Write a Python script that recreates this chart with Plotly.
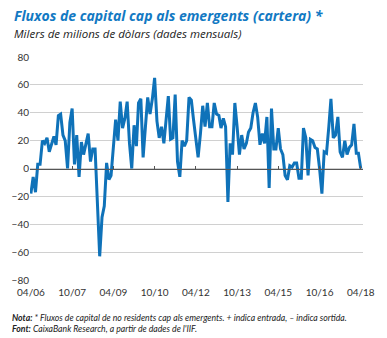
import plotly.graph_objects as go
import pandas as pd

start_month = "2006-04-01"
flows = [
    -18, -6, -17, 3, 3, 20, 18, 22, 12, 17,
    23, 17, 38, 39, 24, 20, 0, 33, 43, 3,
    24, -6, 19, 10, 17, 25, 5, 14, 14, -22,
    -63, -35, -27, 4, -8, -5, 15, 35, 20, 48,
    29, 36, 48, 18, 0, 31, 16, 47, 50, 8,
    30, 51, 39, 50, 65, 34, 22, 30, 18, 33,
    52, 21, 22, 53, 5, -6, 20, 16, 20, 51,
    49, 35, 20, 8, 25, 45, 30, 47, 30, 30,
    47, 39, 38, 29, 36, 30, -24, 18, 10, 47,
    30, 10, 24, 14, 18, 26, 29, 40, 47, 37,
    17, 25, 18, 37, -14, 43, 14, 14, 29, 14,
    10, -5, -8, 2, 1, 4, 4, -7, -7, 29,
    22, -5, 21, 20, 15, 14, 0, -18, 12, 11,
    30, 50, 22, 24, 37, 12, 8, 20, 10, 15,
    17, 32, 11, 11, 0,
]
months = pd.date_range(start_month, periods=len(flows), freq="MS")
y_ticks = [-80, -60, -40, -20, 0, 20, 40, 60, 80]

title = "Fluxos de capital cap als emergents (cartera) *"
subtitle = "Milers de milions de dòlars (dades mensuals)"
note = "<b>Nota:</b> * Fluxos de capital de no residents cap als emergents. + indica entrada, – indica sortida."
source = "<b>Font:</b> CaixaBank Research, a partir de dades de l'IIF."

W, H = 387, 338
ml, mr, mt, mb = 28, 15, 57, 58
pw, ph = W - ml - mr, H - mt - mb
xr = ["2006-03-20", "2018-05-01"]

def px(x):
    return (x - ml) / pw

def py(y):
    return (H - mb - y) / ph

fig = go.Figure()
fig.add_trace(go.Scatter(x=months, y=flows, mode="lines",
                         line=dict(color="#0f72b9", width=3),
                         hoverinfo="skip", showlegend=False))
fig.add_trace(go.Scatter(x=months, y=flows, mode="lines", xaxis="x2",
                         line=dict(width=0), opacity=0,
                         hoverinfo="skip", showlegend=False))

fig.update_layout(
    width=W, height=H,
    margin=dict(l=ml, r=mr, t=mt, b=mb),
    paper_bgcolor="white", plot_bgcolor="white",
    font=dict(family="Lato", color="#333333"),
    xaxis=dict(type="date", range=xr, tick0=start_month, dtick="M18",
               tickformat="%m/%y", showgrid=False, zeroline=False,
               showline=False, ticks="outside", ticklen=3, tickcolor="rgba(0,0,0,0)",
               tickfont=dict(size=10, color="#333333")),
    xaxis2=dict(type="date", range=xr, tick0=start_month, dtick="M18",
                overlaying="x", anchor="free", position=0.5, side="bottom",
                showgrid=False, zeroline=False, showline=True, linecolor="#555555",
                linewidth=1, ticks="inside", ticklen=3, tickcolor="#555555",
                showticklabels=False),
    yaxis=dict(range=[-80, 80], tickvals=y_ticks, showgrid=True,
               gridcolor="#d0d0d0", gridwidth=1, zeroline=False,
               showline=False, ticks="", tickfont=dict(size=10, color="#333333")),
    annotations=[
        dict(text="<b><i>" + title + "</i></b>", x=px(9), y=py(16), xref="paper", yref="paper",
             xanchor="left", yanchor="middle", showarrow=False,
             font=dict(family="Open Sans", size=14, color="#1279c3")),
        dict(text="<i>" + subtitle + "</i>", x=px(9), y=py(34), xref="paper", yref="paper",
             xanchor="left", yanchor="middle", showarrow=False,
             font=dict(family="Open Sans", size=11.5, color="#222222")),
        dict(text="<i>" + note + "</i>", x=px(7), y=py(317.5), xref="paper", yref="paper",
             xanchor="left", yanchor="middle", showarrow=False,
             font=dict(family="Lato", size=8.7, color="#222222")),
        dict(text="<i>" + source + "</i>", x=px(7), y=py(328), xref="paper", yref="paper",
             xanchor="left", yanchor="middle", showarrow=False,
             font=dict(family="Lato", size=8.7, color="#222222")),
    ],
)

fig.write_html("out.html")
